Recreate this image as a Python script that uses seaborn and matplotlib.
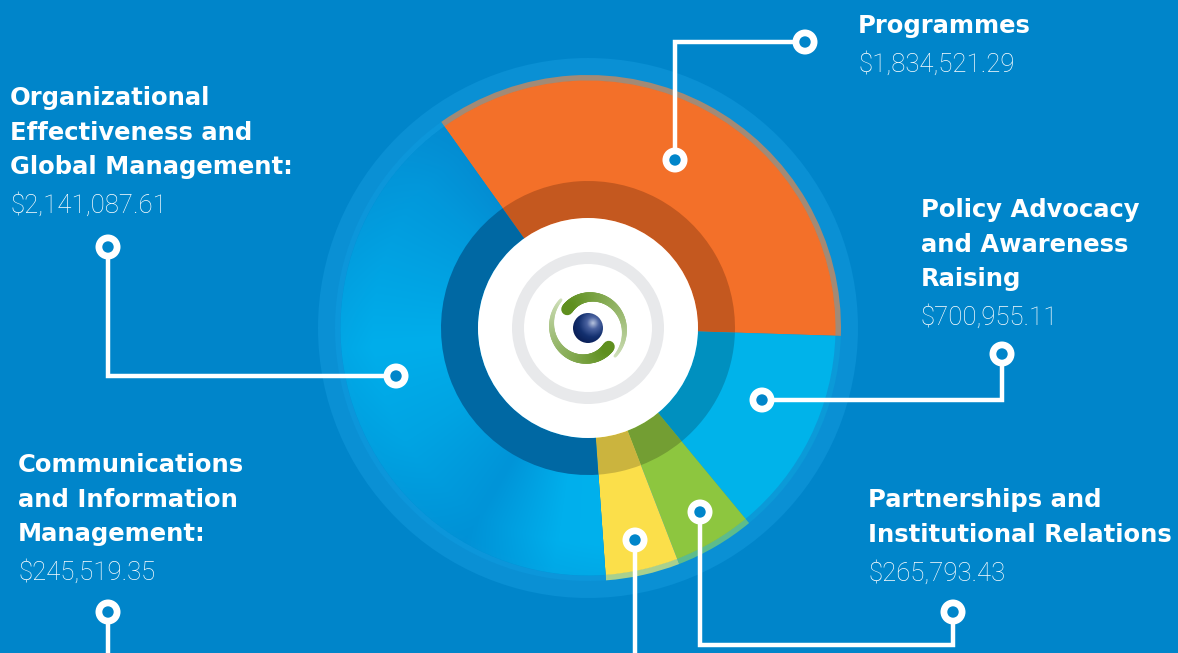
import numpy as np
import matplotlib
matplotlib.use("Agg")
import matplotlib.pyplot as plt
import seaborn as sns
from matplotlib.patches import Circle, Wedge
from matplotlib.collections import LineCollection
from matplotlib.colors import to_rgb

# ---------------- data ----------------
categories = ["Programmes",
              "Policy Advocacy and Awareness Raising",
              "Partnerships and Institutional Relations",
              "Communications and Information Management",
              "Organizational Effectiveness and Global Management"]
amounts = [1834521.29, 700955.11, 265793.43, 245519.35, 2141087.61]
title_lines = [["Programmes"],
               ["Policy Advocacy", "and Awareness", "Raising"],
               ["Partnerships and", "Institutional Relations"],
               ["Communications", "and Information", "Management:"],
               ["Organizational", "Effectiveness and", "Global Management:"]]

# ---------------- style ----------------
sns.set_theme(style="white")
plt.rcParams['font.family'] = ['DejaVu Sans']
BG = '#0085CA'
base_colors = ['#F37029', '#00B3EA', '#8DC63F', '#FBDF4A', '#0090D4']
rim_colors = ['#A28A76', '#0B9AD8', '#5DBC8C', '#A9D08E', '#0C96DA']
dark_colors = ['#C4581F', '#0090BF', '#739E33', '#CBB43E', '#0068A3']
palette = sns.color_palette(base_colors)

W, H = 1178, 653
cx, cy = 588, H - 328

fig = plt.figure(figsize=(W / 100, H / 100), dpi=100, facecolor=BG)
ax = fig.add_axes([0, 0, 1, 1])
ax.set_facecolor(BG)

def Y(y):
    return H - y

# background disc
ax.add_patch(Circle((cx, cy), 270, color='#0A90D4', lw=0, zorder=0.5))

# rim pie
rim, _ = ax.pie(amounts, colors=rim_colors, startangle=125.5, counterclock=False,
                radius=253, center=(cx, cy), wedgeprops=dict(width=6, linewidth=0))
for w in rim:
    w.set_zorder(1)
# main pie
wedges, _ = ax.pie(amounts, colors=palette, startangle=125.5, counterclock=False,
                   radius=247.5, center=(cx, cy), wedgeprops=dict(linewidth=0))
for w in wedges:
    w.set_zorder(1.5)

# gradient for organizational slice
n = 700
xs = np.linspace(cx - 260, cx + 260, n)
ys = np.linspace(cy - 260, cy + 260, n)
XX, YY = np.meshgrid(xs, ys)
th = np.degrees(np.arctan2(YY - cy, XX - cx)) % 360
rr = np.hypot(XX - cx, YY - cy)
stops_a = [115, 140, 185, 212, 240, 262, 285]
stops_c = ['#0586CD', '#0298DB', '#00AEEB', '#00A4E3', '#0094D8', '#00AFEC', '#00B3EE']
rgb = np.array([to_rgb(c) for c in stops_c])
img = np.stack([np.interp(th, stops_a, rgb[:, k]) for k in range(3)], axis=-1)
f = (np.clip((rr - 215) / 35, 0, 1) * 0.18)[..., None]
img = img * (1 - f) + np.array(to_rgb('#0784CA')) * f
im = ax.imshow(img, extent=(xs[0], xs[-1], ys[0], ys[-1]), origin='lower', zorder=2,
               interpolation='bilinear')
im.set_clip_path(wedges[4])

# dark inner ring
dark, _ = ax.pie(amounts, colors=dark_colors, startangle=125.5, counterclock=False,
                 radius=147, center=(cx, cy), wedgeprops=dict(width=37, linewidth=0))
for w in dark:
    w.set_zorder(3)

# white centre with grey ring
ax.add_patch(Circle((cx, cy), 110, color='white', lw=0, zorder=4))
ax.add_patch(Wedge((cx, cy), 76, 0, 360, width=12, color='#E8E9EB', lw=0, zorder=5))

# logo: sphere
sx, sy = cx + 5, cy + 5
d = np.hypot(XX - sx, YY - sy)
sph_a = [0, 6, 14, 22]
sph_c = ['#B9C5DF', '#4A62A0', '#13306F', '#0A1E55']
srgb = np.array([to_rgb(c) for c in sph_c])
simg = np.stack([np.interp(d, sph_a, srgb[:, k]) for k in range(3)], axis=-1)
sph = Circle((cx, cy), 15, color='none', lw=0, zorder=6)
ax.add_patch(sph)
im2 = ax.imshow(simg, extent=(xs[0], xs[-1], ys[0], ys[-1]), origin='lower', zorder=6,
                interpolation='bilinear')
im2.set_clip_path(sph)

# logo: green arcs
def arc(th0, th1, r0, r1, w0, w1, c0, c1, m=80):
    t = np.linspace(0, 1, m)
    a = np.radians(th0 + (th1 - th0) * t)
    r = r0 + (r1 - r0) * t
    pts = np.column_stack([cx + r * np.cos(a), cy + r * np.sin(a)])
    segs = np.stack([pts[:-1], pts[1:]], axis=1)
    tm = (t[:-1] + t[1:]) / 2
    widths = (w0 + (w1 - w0) * tm) * 0.72
    c0, c1 = np.array(to_rgb(c0)), np.array(to_rgb(c1))
    cols = [(1 - s) * c0 + s * c1 for s in tm ** 0.8]
    ax.add_collection(LineCollection(segs, linewidths=widths, colors=cols,
                                     capstyle='round', zorder=7))

arc(134, 318, 39, 28, 3, 12, '#D3E2BF', '#5E8F1D')
arc(314, 498, 39, 28, 3, 12, '#D3E2BF', '#5E8F1D')

# ---------------- connectors ----------------
connectors = [
    [(675, 160), (675, 42), (805, 42)],
    [(762, 400), (1002, 400), (1002, 354)],
    [(700, 512), (700, 645), (953, 645), (953, 612)],
    [(635, 540), (635, 670)],
    [(396, 376), (108, 376), (108, 247)],
]
extra_lines = [[(108, 612), (108, 670)]]
dots = [(675, 160), (805, 42), (762, 400), (1002, 354), (700, 512), (953, 612),
        (635, 540), (108, 612), (396, 376), (108, 247)]
for path in connectors + extra_lines:
    px = [p[0] for p in path]
    py = [Y(p[1]) for p in path]
    ax.plot(px, py, color='white', lw=3.2, solid_joinstyle='miter', zorder=8)
for (x, y) in dots:
    ax.add_patch(Circle((x, Y(y)), 12.5, color='white', lw=0, zorder=9))
    ax.add_patch(Circle((x, Y(y)), 5.7, color=BG, lw=0, zorder=10))

# ---------------- labels ----------------
text_x = [858, 921, 868, 18, 10]
text_y0 = [33, 217, 507, 472, 105]
line_step = 34.6
for i in range(len(categories)):
    y = text_y0[i]
    for j, line in enumerate(title_lines[i]):
        ax.text(text_x[i], Y(y + j * line_step), line, color='white', fontsize=17.5,
                fontweight='bold', family=['DejaVu Sans'], ha='left', va='baseline',
                zorder=11)
    yv = y + (len(title_lines[i]) - 1) * line_step + 39
    ax.text(text_x[i], Y(yv), f"${amounts[i]:,.2f}", color='white', fontsize=18.5,
            fontweight='light', family=['Roboto', 'DejaVu Sans'], ha='left',
            va='baseline', zorder=11)

ax.set_xlim(0, W)
ax.set_ylim(0, H)
ax.set_aspect('auto')
ax.axis('off')
fig.savefig('out.png', dpi=100, facecolor=BG)
